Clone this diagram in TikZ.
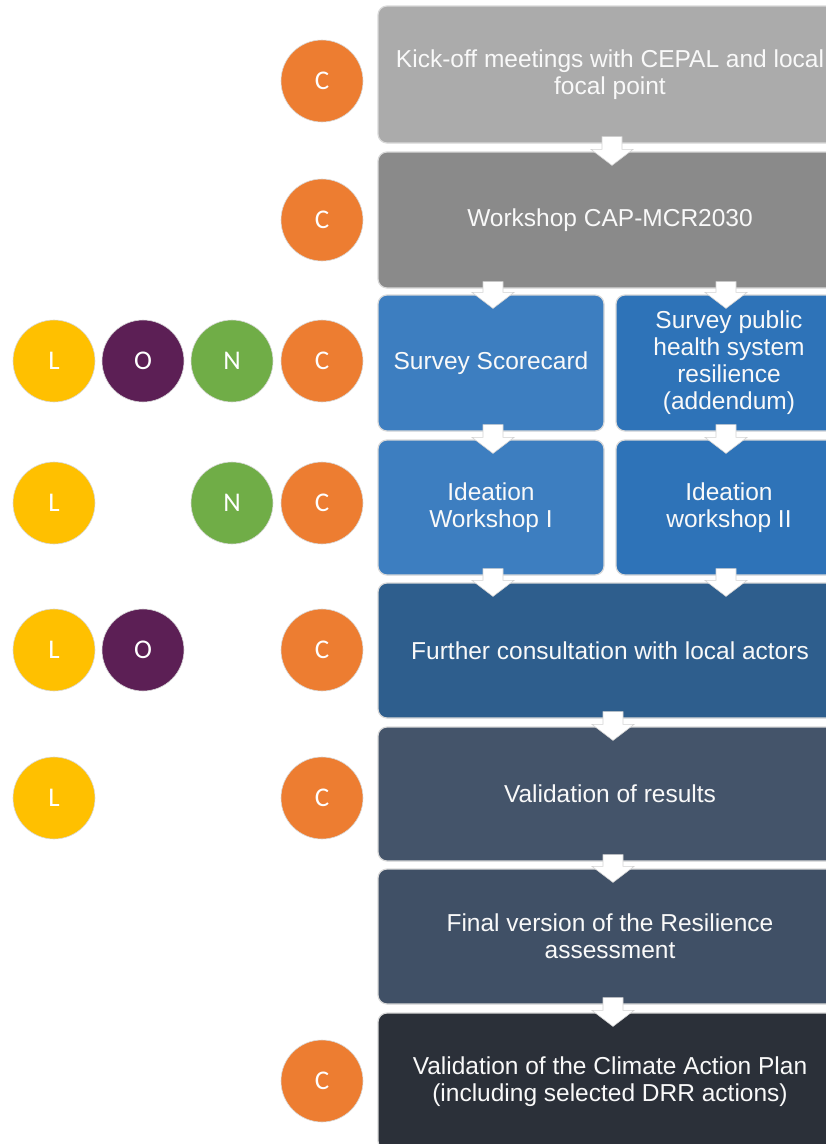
\documentclass[tikz,border=0pt]{standalone}
\usepackage{fontspec}
\setmainfont{Liberation Sans}
\newfontfamily\circfont{Carlito}
\usetikzlibrary{calc}
\definecolor{cone}{HTML}{ABABAB}
\definecolor{ctwo}{HTML}{8A8A8A}
\definecolor{cblueL}{HTML}{3D7EC0}
\definecolor{cblueR}{HTML}{2E73B8}
\definecolor{cfive}{HTML}{2E5E8D}
\definecolor{csix}{HTML}{44546A}
\definecolor{cseven}{HTML}{405066}
\definecolor{ceight}{HTML}{2B3039}
\definecolor{cL}{HTML}{FFC000}
\definecolor{cO}{HTML}{5C1F55}
\definecolor{cN}{HTML}{70AD47}
\definecolor{cC}{HTML}{ED7D31}
\newcommand{\flowarrow}[3]{%
  \draw[flowarr] let \p1=(#1.south), \p2=(#2.north) in
   ({#3pt-10pt},{\y1+7pt}) -- ({#3pt+10pt},{\y1+7pt}) -- ({#3pt+10pt},{\y2+2pt})
   -- ({#3pt+21pt},{\y2+2pt}) -- ({#3pt},{\y2-14pt}) -- ({#3pt-21pt},{\y2+2pt})
   -- ({#3pt-10pt},{\y2+2pt}) -- cycle;}
\begin{document}
\begin{tikzpicture}[x=1pt,y=-1pt,
  box/.style={rectangle, rounded corners=9pt, draw=gray!30, line width=1.2pt, text=white!95!gray,
    align=center, font=\fontsize{24.5}{27}\selectfont, inner sep=0pt},
  wide/.style={box, minimum width=464pt},
  half/.style={box, minimum width=226pt},
  circ/.style={circle, minimum size=82pt, inner sep=0pt, draw=gray!30, line width=0.6pt,
    text=white, font=\circfont\fontsize{27}{27}\selectfont},
  flowarr/.style={fill=white, draw=gray!35, line width=0.6pt, line join=miter}]
\useasboundingbox (0,0) rectangle (826,1144);
\clip (0,0) rectangle (826,1144);
\fill[white] (0,0) rectangle (826,1144);
% boxes
\node[wide, fill=cone, minimum height=137pt] (b1) at (610,74.5) {Kick-off meetings with CEPAL and local\\focal point};
\node[wide, fill=ctwo, minimum height=136pt] (b2) at (610,220) {Workshop CAP-MCR2030};
\node[half, fill=cblueL, minimum height=136pt] (b3L) at (491,363) {Survey Scorecard};
\node[half, fill=cblueR, minimum height=136pt] (b3R) at (729,363) {Survey public\\health system\\resilience\\(addendum)};
\node[half, fill=cblueL, minimum height=135pt] (b4L) at (491,507.5) {Ideation\\Workshop I};
\node[half, fill=cblueR, minimum height=135pt] (b4R) at (729,507.5) {Ideation\\workshop II};
\node[wide, fill=cfive, minimum height=135pt] (b5) at (610,650.5) {Further consultation with local actors};
\node[wide, fill=csix, minimum height=134pt] (b6) at (610,794) {Validation of results};
\node[wide, fill=cseven, minimum height=135pt] (b7) at (610,936.5) {Final version of the Resilience\\assessment};
\node[wide, fill=ceight, minimum height=137pt] (b8) at (610,1081.5) {Validation of the Climate Action Plan\\(including selected DRR actions)};
% arrows
\flowarrow{b1}{b2}{612}
\flowarrow{b2}{b3L}{493}
\flowarrow{b2}{b3R}{726}
\flowarrow{b3L}{b4L}{493}
\flowarrow{b3R}{b4R}{726}
\flowarrow{b4L}{b5}{493}
\flowarrow{b4R}{b5}{726}
\flowarrow{b5}{b6}{613}
\flowarrow{b6}{b7}{613}
\flowarrow{b7}{b8}{613}
% circles
\node[circ, fill=cC] (c1) at (322,81) {C};
\node[circ, fill=cC] (c2) at (322,220) {C};
\node[circ, fill=cL] (l3) at (54,361) {L};
\node[circ, fill=cO] (o3) at (143,361) {O};
\node[circ, fill=cN] (n3) at (232,361) {N};
\node[circ, fill=cC] (c3) at (322,361) {C};
\node[circ, fill=cL] (l4) at (54,503) {L};
\node[circ, fill=cN] (n4) at (232,503) {N};
\node[circ, fill=cC] (c4) at (322,503) {C};
\node[circ, fill=cL] (l5) at (54,650) {L};
\node[circ, fill=cO] (o5) at (143,650) {O};
\node[circ, fill=cC] (c5) at (322,650) {C};
\node[circ, fill=cL] (l6) at (54,798) {L};
\node[circ, fill=cC] (c6) at (322,798) {C};
\node[circ, fill=cC] (c8) at (322,1081) {C};
\end{tikzpicture}
\end{document}
